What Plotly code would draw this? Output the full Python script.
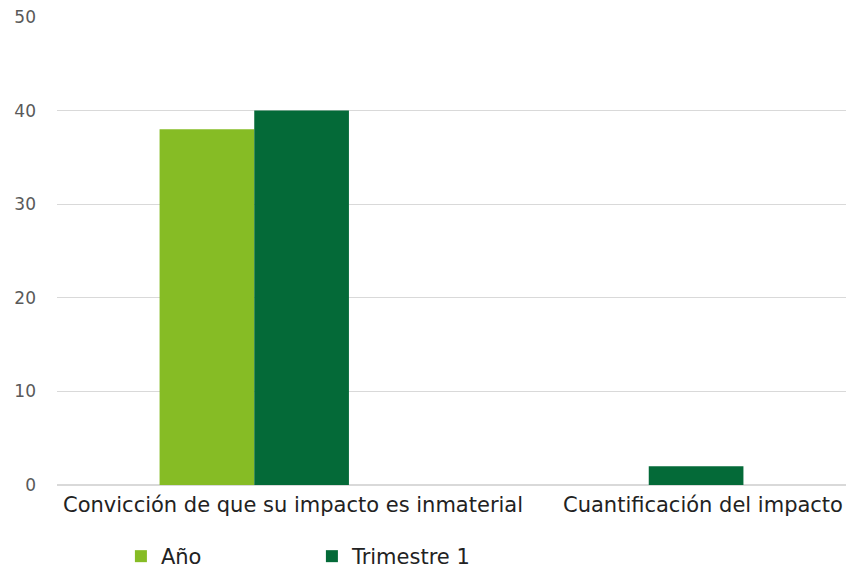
import plotly.graph_objects as go

categories = ["Convicción de que su impacto es inmaterial", "Cuantificación del impacto"]
anio = [38, 0]
trimestre1 = [40, 2]
series_names = ["Año", "Trimestre 1"]
colors = ["#86bc25", "#046a38"]
label_offsets = [39, 54]  # horizontal nudge of each category label, px

fig = go.Figure()
for name, vals, col in zip(series_names, [anio, trimestre1], colors):
    fig.add_trace(go.Bar(x=categories, y=vals, name=name, marker_color=col,
                         marker_line_width=0))

# category labels drawn as annotations under the axis
for cat, dx in zip(categories, label_offsets):
    fig.add_annotation(x=cat, xref="x", y=0, yref="paper", yanchor="top",
                       text=cat, showarrow=False, xshift=dx, yshift=-6,
                       font=dict(size=21, color="#222222"))

fig.update_layout(
    width=846, height=569,
    margin=dict(l=57, r=0, t=17, b=84, autoexpand=False),
    paper_bgcolor="white", plot_bgcolor="white",
    barmode="group", bargap=0.52, bargroupgap=0,
    font=dict(family="DejaVu Sans", size=17, color="#595959"),
    showlegend=True,
    legend=dict(orientation="h", x=0.081, xanchor="left", y=-0.109, yanchor="top",
                entrywidth=146, entrywidthmode="pixels",
                font=dict(size=21, color="#222222"), itemsizing="constant"),
)
fig.update_xaxes(showgrid=False, showline=False, ticks="", showticklabels=False)
fig.update_yaxes(range=[0, 50], dtick=10, showgrid=True, gridcolor="#d9d9d9",
                 gridwidth=1, zeroline=True, zerolinecolor="#d9d9d9",
                 showline=False, ticks="", ticklabelstandoff=20)

fig.write_html("out.html")
